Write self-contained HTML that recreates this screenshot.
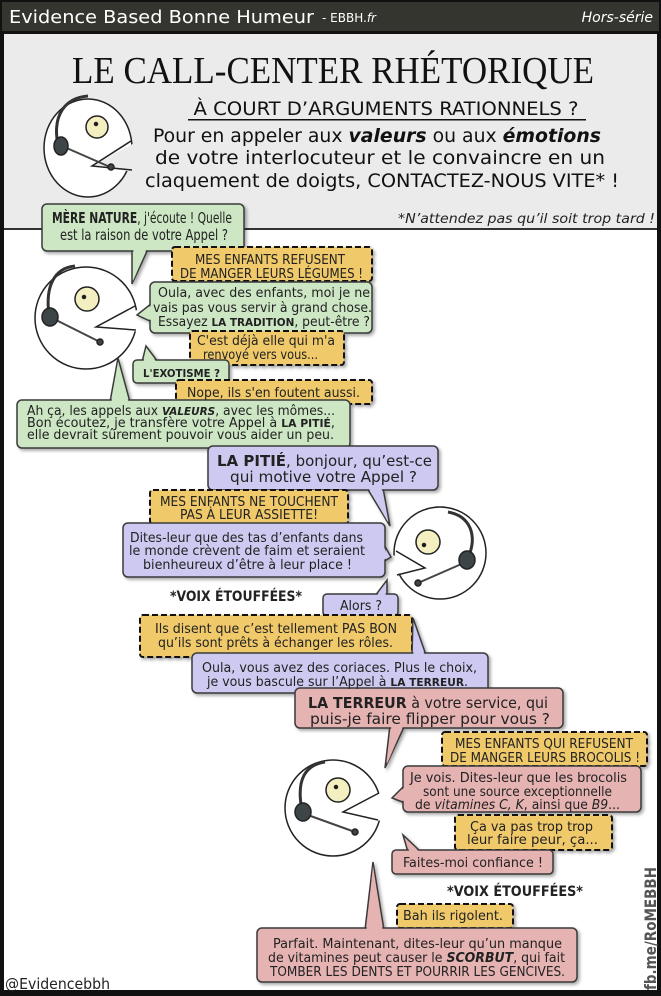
<!DOCTYPE html>
<html><head><meta charset="utf-8">
<style>
html,body{margin:0;padding:0;background:#000;}
svg{display:block;}
.t{font-family:"DejaVu Sans Condensed","DejaVu Sans","Liberation Sans",sans-serif;font-size:13px;fill:#222;}
.b{font-weight:bold;}
.sh{filter:drop-shadow(2px 2px 1.5px rgba(0,0,0,.35));}
</style></head>
<body>
<svg width="661" height="996" viewBox="0 0 661 996" xmlns="http://www.w3.org/2000/svg">
<rect x="0" y="0" width="661" height="996" fill="#111"/>
<!-- header -->
<rect x="2" y="2" width="657" height="29" fill="#34352f"/>
<text x="9" y="23" font-family="DejaVu Sans,Liberation Sans,sans-serif" font-size="18" fill="#fff" textLength="305" lengthAdjust="spacingAndGlyphs">Evidence Based Bonne Humeur</text>
<text x="322" y="22" font-family="DejaVu Sans,Liberation Sans,sans-serif" font-size="12" fill="#fff">- EBBH.<tspan font-style="italic">fr</tspan></text>
<text x="653" y="22" text-anchor="end" font-family="DejaVu Sans,Liberation Sans,sans-serif" font-size="14" font-style="italic" fill="#fff">Hors-série</text>
<!-- top panel -->
<rect x="4" y="34" width="653" height="195" fill="#ebebeb"/>
<rect x="4" y="228" width="653" height="2" fill="#333"/>
<rect x="4" y="230" width="653" height="760" fill="#fff"/>
<text x="333" y="83" text-anchor="middle" font-family="Liberation Serif,serif" font-size="38" fill="#111" textLength="522" lengthAdjust="spacingAndGlyphs">LE CALL-CENTER RHÉTORIQUE</text>
<text x="386" y="115" text-anchor="middle" font-family="DejaVu Sans Condensed,DejaVu Sans,sans-serif" font-size="19" fill="#111" textLength="385" lengthAdjust="spacingAndGlyphs">À COURT D’ARGUMENTS RATIONNELS ?</text>
<rect x="188" y="119" width="398" height="1.5" fill="#111"/>
<g font-family="DejaVu Sans Condensed,DejaVu Sans,sans-serif" font-size="19" fill="#111" text-anchor="middle">
<text x="377" y="142" textLength="448" lengthAdjust="spacingAndGlyphs">Pour en appeler aux <tspan font-weight="bold" font-style="italic">valeurs</tspan> ou aux <tspan font-weight="bold" font-style="italic">émotions</tspan></text>
<text x="380" y="164" textLength="450" lengthAdjust="spacingAndGlyphs">de votre interlocuteur et le convaincre en un</text>
<text x="382" y="187" textLength="474" lengthAdjust="spacingAndGlyphs">claquement de doigts, CONTACTEZ-NOUS VITE* !</text>
</g>
<text x="655" y="223" text-anchor="end" font-family="DejaVu Sans Condensed,DejaVu Sans,sans-serif" font-size="13" font-style="italic" fill="#222" textLength="257" lengthAdjust="spacingAndGlyphs">*N’attendez pas qu’il soit trop tard !</text>

<!-- head top -->
<g stroke="#222" stroke-width="1.5">
<ellipse cx="88" cy="148" rx="44" ry="49" fill="#fff"/>
<polygon points="140,140 92,166 140,173" fill="#ebebeb" stroke="none"/>
<polyline points="131,141 92,166 132,170" fill="none"/>
<circle cx="97" cy="127" r="11" fill="#f3efc0"/>
<circle cx="96" cy="124" r="1.5" fill="#111"/>
<path d="M58,145 C52,115 65,98 88,96" fill="none" stroke="#333" stroke-width="3"/>
<path d="M62,146 L110,167" stroke="#444" stroke-width="2"/>
<ellipse cx="61" cy="146" rx="7" ry="9" fill="#3d4548"/>
<circle cx="111" cy="167" r="3" fill="#3d4548"/>
</g>

<!-- head 1 -->
<g stroke="#222" stroke-width="1.5">
<circle cx="86" cy="318" r="51" fill="#fff"/>
<polygon points="142,308 96,327 142,332" fill="#fff" stroke="none"/>
<polyline points="135,306 96,327 136,330" fill="none"/>
<circle cx="87" cy="299" r="12" fill="#f3efc0"/>
<circle cx="84" cy="297" r="1.5" fill="#111"/>
<path d="M49,315 C45,285 55,268 75,266" fill="none" stroke="#333" stroke-width="3"/>
<path d="M52,318 L100,342" stroke="#444" stroke-width="2"/>
<ellipse cx="50" cy="317" rx="8" ry="9" fill="#3d4548"/>
<circle cx="100" cy="342" r="3" fill="#3d4548"/>
</g>
<!-- head 2 -->
<g stroke="#222" stroke-width="1.5">
<circle cx="440" cy="553" r="46" fill="#fff"/>
<polygon points="388,553 425,568 388,576" fill="#fff" stroke="none"/>
<polyline points="396,551 425,568 397,575" fill="none"/>
<circle cx="428" cy="542" r="12" fill="#f3efc0"/>
<circle cx="424" cy="545" r="1.5" fill="#111"/>
<path d="M468,558 C478,535 470,516 448,512" fill="none" stroke="#333" stroke-width="3"/>
<path d="M466,562 L418,583" stroke="#444" stroke-width="2"/>
<ellipse cx="467" cy="560" rx="8" ry="9" fill="#3d4548"/>
<circle cx="418" cy="583" r="3" fill="#3d4548"/>
</g>
<!-- head 3 -->
<g stroke="#222" stroke-width="1.5">
<circle cx="333" cy="808" r="48" fill="#fff"/>
<polygon points="386,790 343,812 386,822" fill="#fff" stroke="none"/>
<polyline points="379,793 343,812 378,820" fill="none"/>
<circle cx="338" cy="790" r="12" fill="#f3efc0"/>
<circle cx="336" cy="787" r="1.5" fill="#111"/>
<path d="M302,810 C296,780 305,765 325,762" fill="none" stroke="#333" stroke-width="3"/>
<path d="M305,814 L355,832" stroke="#444" stroke-width="2"/>
<ellipse cx="303" cy="812" rx="8" ry="9" fill="#3d4548"/>
<circle cx="355" cy="832" r="3" fill="#3d4548"/>
</g>

<g stroke="#3a3a3a" stroke-width="1.5" class="sh">
<polygon points="132,249 148,249 132,284" fill="#cde6c4"/>
<rect x="42" y="204" width="202" height="47" rx="5" fill="#cde6c4"/>
<polygon points="133.5,249 146.5,249 133,281" fill="#cde6c4" stroke="none"/>
<rect x="172" y="247" width="200" height="34" rx="3" fill="#f0c96a" stroke="#111" stroke-width="2" stroke-dasharray="6,3"/>
<polygon points="152,303 152,322 137,315" fill="#cde6c4"/>
<rect x="150" y="282" width="222" height="51" rx="5" fill="#cde6c4"/>
<polygon points="152,304.5 152,320.5 140,315" fill="#cde6c4" stroke="none"/>
<rect x="190" y="331" width="154" height="34" rx="3" fill="#f0c96a" stroke="#111" stroke-width="2" stroke-dasharray="6,3"/>
<polygon points="142,362 158,362 146,346" fill="#cde6c4"/>
<rect x="133" y="360" width="96" height="23" rx="4" fill="#cde6c4"/>
<polygon points="143.5,362 156.5,362 146,349" fill="#cde6c4" stroke="none"/>
<rect x="176" y="380" width="196" height="24" rx="3" fill="#f0c96a" stroke="#111" stroke-width="2" stroke-dasharray="6,3"/>
<polygon points="110,402 130,402 118,358" fill="#cde6c4"/>
<rect x="17" y="400" width="333" height="48" rx="5" fill="#cde6c4"/>
<polygon points="111.5,402 128.5,402 118,362" fill="#cde6c4" stroke="none"/>
<polygon points="367,488 383,488 390,526" fill="#cdc9f0"/>
<rect x="208" y="446" width="230" height="44" rx="5" fill="#cdc9f0"/>
<polygon points="368.5,488 381.5,488 388,522" fill="#cdc9f0" stroke="none"/>
<rect x="150" y="490" width="198" height="34" rx="3" fill="#f0c96a" stroke="#111" stroke-width="2" stroke-dasharray="6,3"/>
<polygon points="383,543 383,562 391,557" fill="#cdc9f0"/>
<rect x="123" y="523" width="262" height="54" rx="5" fill="#cdc9f0"/>
<polygon points="383,544.5 383,560.5 388,557" fill="#cdc9f0" stroke="none"/>
<polygon points="375,596 387,596 387,580" fill="#cdc9f0"/>
<rect x="323" y="594" width="75" height="22" rx="4" fill="#cdc9f0"/>
<polygon points="376.5,596 385.5,596 386,583" fill="#cdc9f0" stroke="none"/>
<rect x="140" y="615" width="272" height="42" rx="3" fill="#f0c96a" stroke="#111" stroke-width="2" stroke-dasharray="6,3"/>
<polygon points="412,655 426,655 413,618" fill="#cdc9f0"/>
<rect x="192" y="653" width="296" height="40" rx="5" fill="#cdc9f0"/>
<polygon points="413.5,655 424.5,655 413.5,622" fill="#cdc9f0" stroke="none"/>
<polygon points="390,725 405,725 385,768" fill="#e6b3b3"/>
<rect x="295" y="688" width="268" height="40" rx="5" fill="#e6b3b3"/>
<polygon points="391.5,725 403.5,725 387,764" fill="#e6b3b3" stroke="none"/>
<rect x="442" y="732" width="205" height="34" rx="3" fill="#f0c96a" stroke="#111" stroke-width="2" stroke-dasharray="6,3"/>
<polygon points="405,785 405,803 392,798" fill="#e6b3b3"/>
<rect x="403" y="766" width="238" height="46" rx="5" fill="#e6b3b3"/>
<polygon points="405,786.5 405,801.5 395,798" fill="#e6b3b3" stroke="none"/>
<rect x="455" y="815" width="157" height="35" rx="3" fill="#f0c96a" stroke="#111" stroke-width="2" stroke-dasharray="6,3"/>
<polygon points="408,852 421,852 403,835" fill="#e6b3b3"/>
<rect x="392" y="850" width="161" height="24" rx="4" fill="#e6b3b3"/>
<polygon points="409.5,852 419.5,852 405,838" fill="#e6b3b3" stroke="none"/>
<rect x="397" y="904" width="116" height="24" rx="3" fill="#f0c96a" stroke="#111" stroke-width="2" stroke-dasharray="6,3"/>
<polygon points="365,930 384,930 373,862" fill="#e6b3b3"/>
<rect x="257" y="928" width="320" height="54" rx="5" fill="#e6b3b3"/>
<polygon points="366.5,930 382.5,930 373,866" fill="#e6b3b3" stroke="none"/>
</g>

<g class="t">
<text x="52" y="223" font-size="15" textLength="180" lengthAdjust="spacingAndGlyphs"><tspan class="b">MÈRE NATURE</tspan>, j'écoute ! Quelle</text>
<text x="60" y="240" font-size="15" textLength="168" lengthAdjust="spacingAndGlyphs">est la raison de votre Appel ?</text>
<text x="195" y="264" textLength="150" lengthAdjust="spacingAndGlyphs">MES ENFANTS REFUSENT</text>
<text x="180" y="278" textLength="183" lengthAdjust="spacingAndGlyphs">DE MANGER LEURS LÉGUMES !</text>
<text x="158" y="297" textLength="212" lengthAdjust="spacingAndGlyphs">Oula, avec des enfants, moi je ne</text>
<text x="153" y="312" textLength="219" lengthAdjust="spacingAndGlyphs">vais pas vous servir à grand chose.</text>
<text x="158" y="326" textLength="212" lengthAdjust="spacingAndGlyphs">Essayez <tspan class="b" font-size="11">LA TRADITION</tspan>, peut-être ?</text>
<text x="197" y="345" textLength="138" lengthAdjust="spacingAndGlyphs">C'est déjà elle qui m'a</text>
<text x="203" y="359" textLength="115" lengthAdjust="spacingAndGlyphs">renvoyé vers vous...</text>
<text x="143" y="377" class="b" font-size="11" textLength="77" lengthAdjust="spacingAndGlyphs">L'EXOTISME ?</text>
<text x="187" y="397" textLength="173" lengthAdjust="spacingAndGlyphs">Nope, ils s'en foutent aussi.</text>
<text x="27" y="415" textLength="308" lengthAdjust="spacingAndGlyphs">Ah ça, les appels aux <tspan class="b" font-style="italic" font-size="11">VALEURS</tspan>, avec les mômes...</text>
<text x="27" y="427" textLength="308" lengthAdjust="spacingAndGlyphs">Bon écoutez, je transfère votre Appel à <tspan class="b" font-size="11">LA PITIÉ</tspan>,</text>
<text x="27" y="439" textLength="307" lengthAdjust="spacingAndGlyphs">elle devrait sûrement pouvoir vous aider un peu.</text>

<text x="217" y="466" font-size="15" textLength="215" lengthAdjust="spacingAndGlyphs"><tspan class="b">LA PITIÉ</tspan>, bonjour, qu’est-ce</text>
<text x="230" y="482" font-size="15" textLength="187" lengthAdjust="spacingAndGlyphs">qui motive votre Appel ?</text>
<text x="160" y="506" textLength="178" lengthAdjust="spacingAndGlyphs">MES ENFANTS NE TOUCHENT</text>
<text x="180" y="519" textLength="138" lengthAdjust="spacingAndGlyphs">PAS À LEUR ASSIETTE!</text>
<text x="130" y="542" textLength="233" lengthAdjust="spacingAndGlyphs">Dites-leur que des tas d’enfants dans</text>
<text x="129" y="555" textLength="236" lengthAdjust="spacingAndGlyphs">le monde crèvent de faim et seraient</text>
<text x="143" y="569" textLength="209" lengthAdjust="spacingAndGlyphs">bienheureux d’être à leur place !</text>
<text x="170" y="601" class="b" font-size="14" textLength="132" lengthAdjust="spacingAndGlyphs">*VOIX ÉTOUFFÉES*</text>
<text x="340" y="610" textLength="42" lengthAdjust="spacingAndGlyphs">Alors ?</text>
<text x="155" y="633" textLength="242" lengthAdjust="spacingAndGlyphs">Ils disent que c’est tellement PAS BON</text>
<text x="158" y="647" textLength="235" lengthAdjust="spacingAndGlyphs">qu’ils sont prêts à échanger les rôles.</text>
<text x="202" y="672" textLength="275" lengthAdjust="spacingAndGlyphs">Oula, vous avez des coriaces. Plus le choix,</text>
<text x="207" y="686" textLength="261" lengthAdjust="spacingAndGlyphs">je vous bascule sur l’Appel à <tspan class="b" font-size="11">LA TERREUR</tspan>.</text>

<text x="308" y="708" font-size="15" textLength="240" lengthAdjust="spacingAndGlyphs"><tspan class="b">LA TERREUR</tspan> à votre service, qui</text>
<text x="310" y="724" font-size="15" textLength="240" lengthAdjust="spacingAndGlyphs">puis-je faire flipper pour vous ?</text>
<text x="455" y="748" textLength="178" lengthAdjust="spacingAndGlyphs">MES ENFANTS QUI REFUSENT</text>
<text x="450" y="762" textLength="190" lengthAdjust="spacingAndGlyphs">DE MANGER LEURS BROCOLIS !</text>
<text x="410" y="782" textLength="217" lengthAdjust="spacingAndGlyphs">Je vois. Dites-leur que les brocolis</text>
<text x="423" y="796" textLength="189" lengthAdjust="spacingAndGlyphs">sont une source exceptionnelle</text>
<text x="415" y="809" textLength="205" lengthAdjust="spacingAndGlyphs">de <tspan font-style="italic">vitamines C, K</tspan>, ainsi que <tspan font-style="italic">B9</tspan>...</text>
<text x="470" y="831" textLength="123" lengthAdjust="spacingAndGlyphs">Ça va pas trop trop</text>
<text x="467" y="844" textLength="131" lengthAdjust="spacingAndGlyphs">leur faire peur, ça...</text>
<text x="403" y="867" textLength="140" lengthAdjust="spacingAndGlyphs">Faites-moi confiance !</text>
<text x="447" y="896" class="b" font-size="14" textLength="136" lengthAdjust="spacingAndGlyphs">*VOIX ÉTOUFFÉES*</text>
<text x="403" y="920" textLength="100" lengthAdjust="spacingAndGlyphs">Bah ils rigolent.</text>
<text x="273" y="948" textLength="289" lengthAdjust="spacingAndGlyphs">Parfait. Maintenant, dites-leur qu’un manque</text>
<text x="268" y="962" textLength="297" lengthAdjust="spacingAndGlyphs">de vitamines peut causer le <tspan class="b" font-style="italic">SCORBUT</tspan>, qui fait</text>
<text x="270" y="976" textLength="295" lengthAdjust="spacingAndGlyphs">TOMBER LES DENTS ET POURRIR LES GENCIVES.</text>
</g>

<text transform="translate(656,990) rotate(-90)" font-family="DejaVu Sans,Liberation Sans,sans-serif" font-size="16" font-weight="bold" fill="#555" textLength="123" lengthAdjust="spacingAndGlyphs">fb.me/RoMEBBH</text>
<text x="5" y="989" font-family="DejaVu Sans,Liberation Sans,sans-serif" font-size="15" fill="#222" textLength="105" lengthAdjust="spacingAndGlyphs">@Evidencebbh</text>
</svg>
</body></html>
